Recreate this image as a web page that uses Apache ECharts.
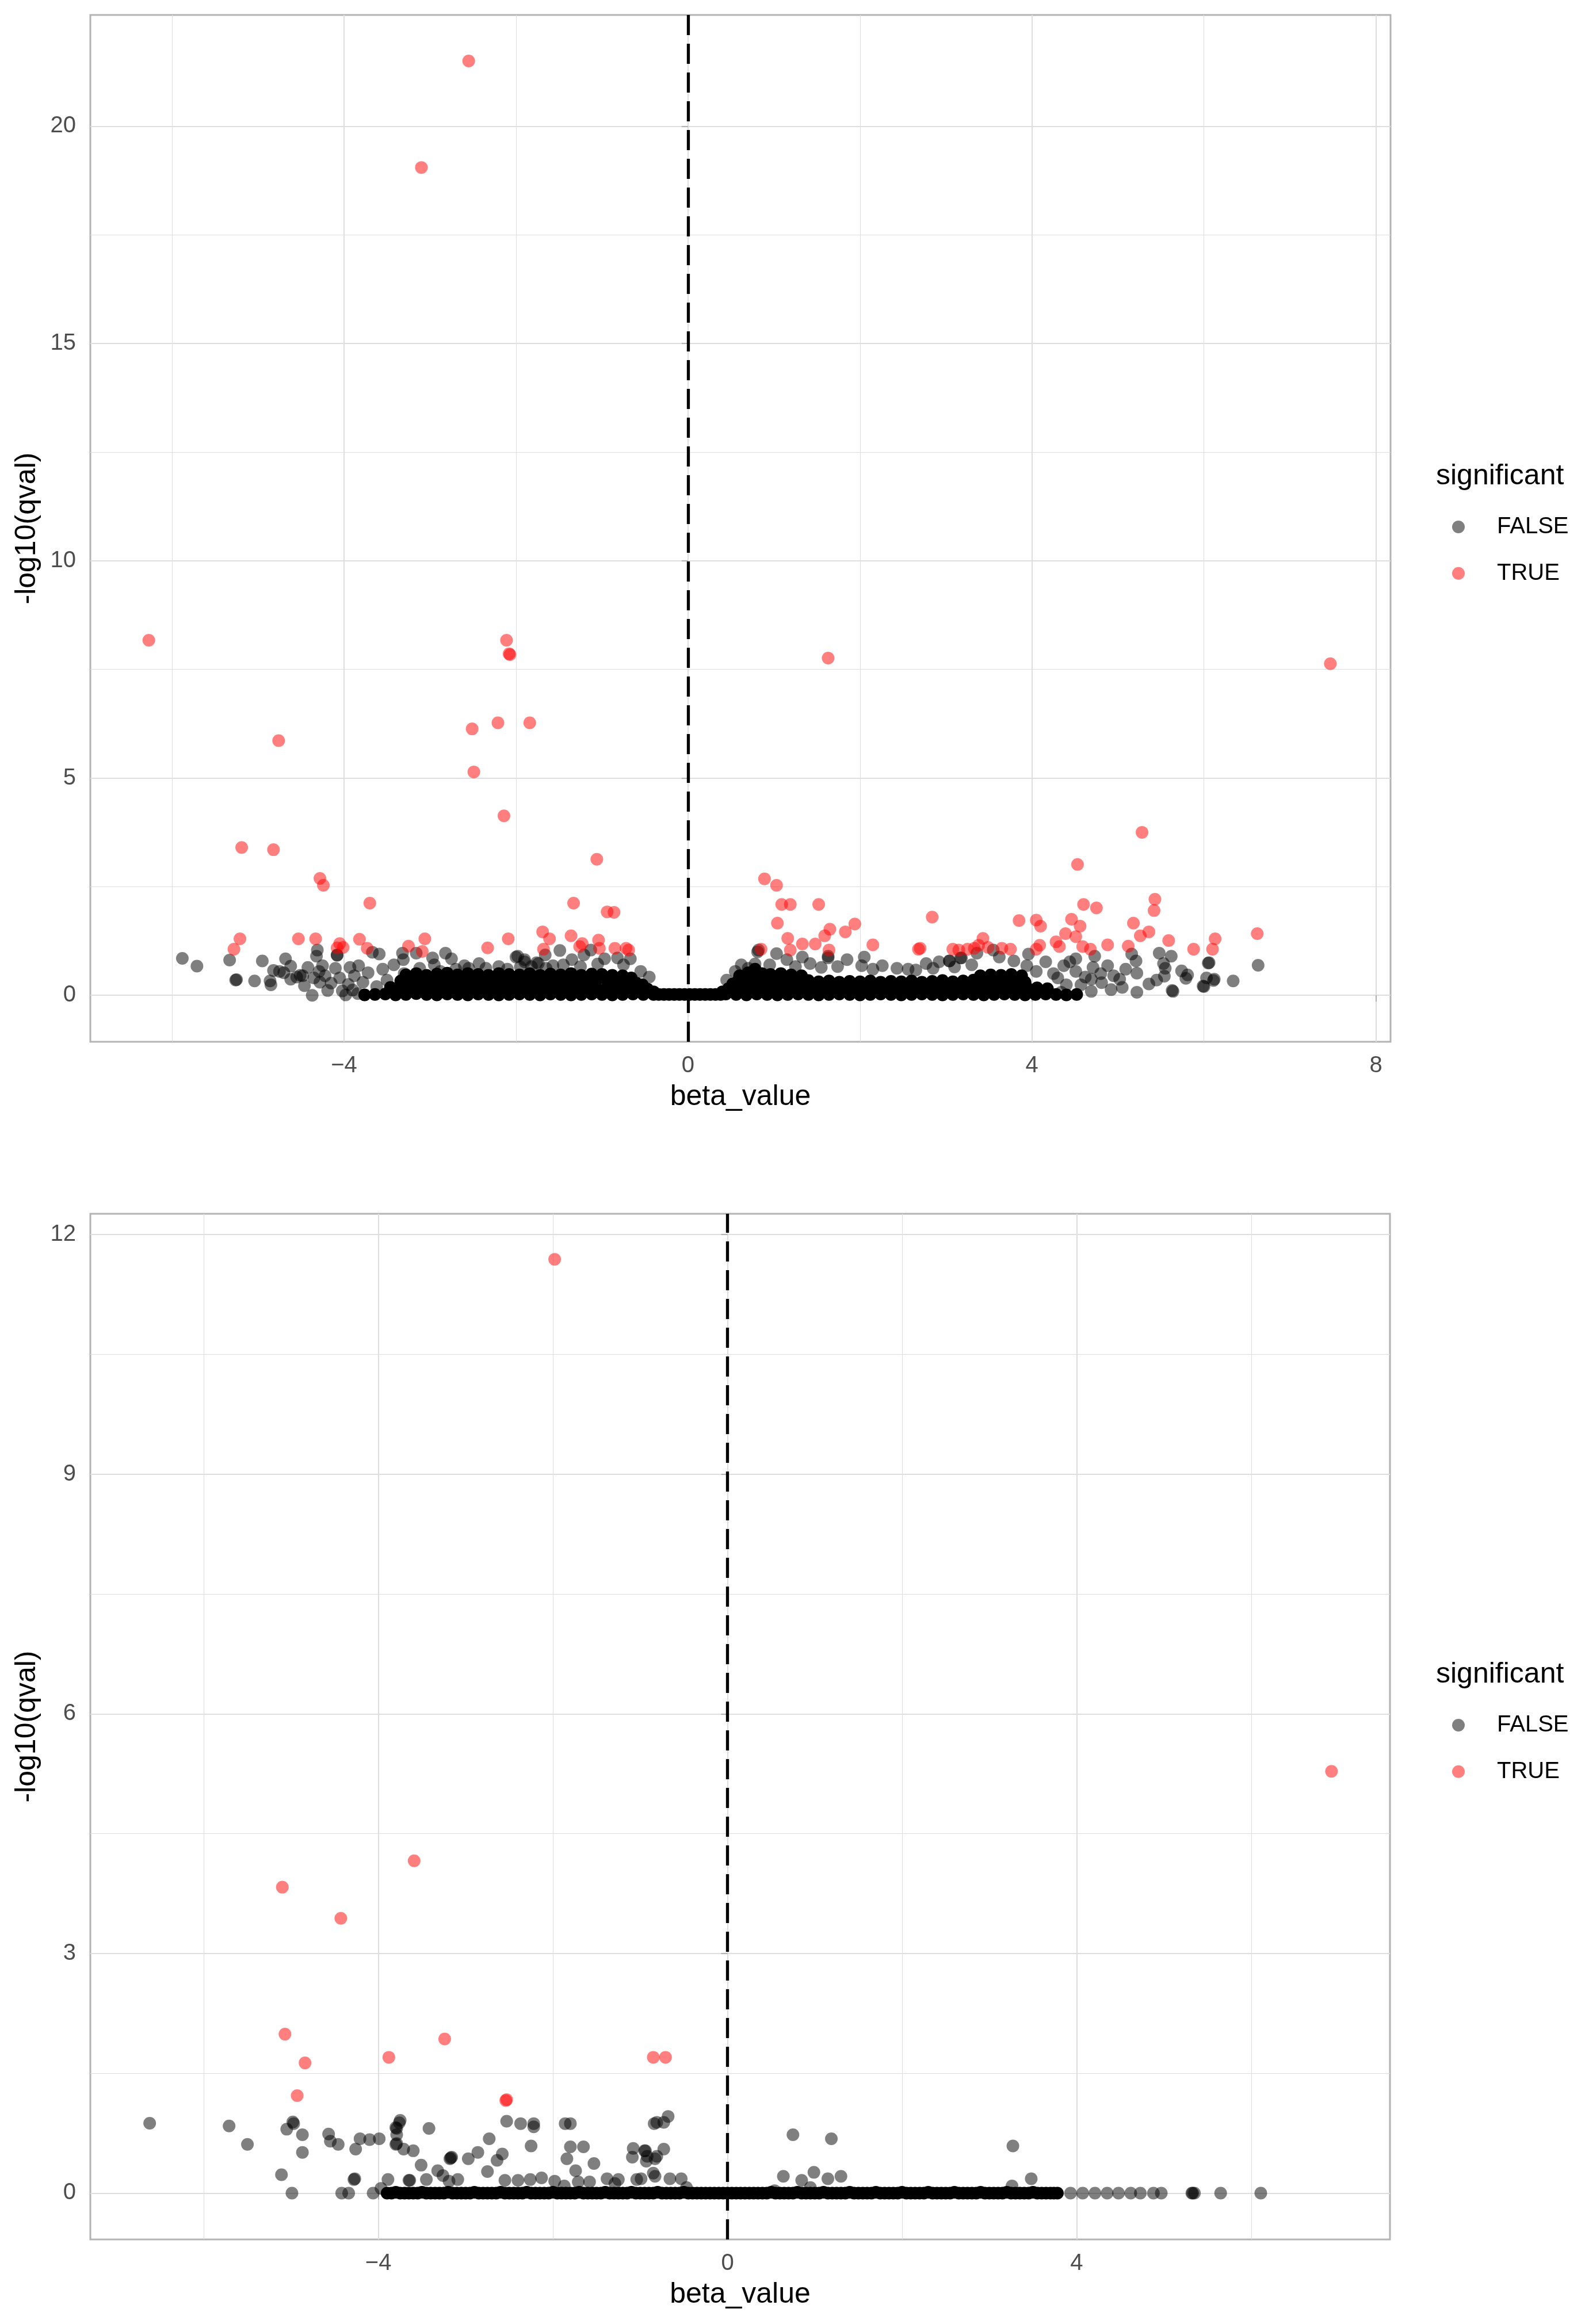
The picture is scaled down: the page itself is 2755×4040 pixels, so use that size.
<!DOCTYPE html>
<html><head><meta charset="utf-8">
<script src="https://cdn.jsdelivr.net/npm/echarts@6/dist/echarts.min.js"></script>
<style>html,body{margin:0;padding:0;background:#fff}#c{width:2755px;height:4040px}</style>
</head><body><div id="c"></div><script>
// ---------- tick values ----------
const topXTicks = [-4, 0, 4, 8];
const topXMinor = [-6, -2, 2, 6];
const topYTicks = [0, 5, 10, 15, 20];
const topYMinor = [2.5, 7.5, 12.5, 17.5];
const bottomXTicks = [-4, 0, 4];
const bottomXMinor = [-6, -2, 2, 6];
const bottomYTicks = [0, 3, 6, 9, 12];
const bottomYMinor = [1.5, 4.5, 7.5, 10.5];
const legendLabels = ['FALSE', 'TRUE'];

// ---------- top panel data [beta_value, -log10(qval)] ----------
const topTrue = [
 [-2.55,21.50],[-3.10,19.05],[-6.27,8.17],[-2.11,8.17],[-2.08,7.86],[-2.07,7.84],[-4.76,5.86],[-2.51,6.13],[-2.21,6.27],[-1.84,6.27],[-2.49,5.14],[-2.14,4.13],[1.63,7.76],[7.47,7.63],
 [-5.19,3.40],[-4.82,3.35],[-4.28,2.69],[-4.24,2.53],[-3.70,2.12],[-5.21,1.30],[-5.28,1.06],[-4.53,1.30],[-4.33,1.30],[-4.05,1.19],[-4.01,1.10],[-4.08,1.09],[-3.82,1.29],[-3.73,1.08],[-3.25,1.13],[-3.06,1.30],[-3.09,1.01],[-2.33,1.09],[-2.09,1.30],
 [-1.69,1.46],[-1.61,1.30],[-1.36,1.37],[-1.23,1.19],[-1.26,1.12],[-1.04,1.27],[-1.03,1.08],[-1.68,1.06],[-0.85,1.08],[-0.72,1.08],[-0.69,1.04],[-1.06,3.13],[-1.33,2.12],[-0.94,1.92],[-0.86,1.91],
 [0.89,2.68],[1.03,2.53],[1.09,2.09],[1.19,2.09],[1.52,2.09],[1.04,1.66],[1.16,1.31],[1.19,1.04],[1.33,1.18],[1.48,1.18],[1.59,1.37],[1.65,1.52],[1.83,1.46],[1.94,1.64],[1.64,1.04],[2.15,1.16],[2.84,1.80],[2.70,1.08],[2.68,1.06],[0.85,1.06],[3.08,1.06],[3.15,1.04],[3.25,1.06],[3.33,1.08],
 [5.28,3.75],[4.53,3.01],[5.43,2.21],[5.42,1.95],[4.60,2.09],[4.75,2.01],[3.85,1.72],[4.05,1.73],[4.10,1.59],[4.46,1.75],[4.56,1.59],[4.39,1.42],[4.51,1.35],[4.28,1.23],[4.32,1.12],[4.09,1.15],[4.05,1.06],[4.59,1.12],[4.68,1.06],[4.88,1.16],[5.12,1.13],[5.18,1.66],[5.36,1.46],[5.26,1.37],[5.59,1.26],[5.88,1.06],[6.13,1.30],[6.10,1.06],[6.62,1.42],[3.43,1.31],[3.65,1.08],[3.75,1.06],[3.38,1.15],[3.49,1.10]
];
const topFalse = [
 [-5.88,0.85],[-5.71,0.67],[-5.33,0.81],[-5.26,0.35],[-5.25,0.36],[-5.04,0.33],[-4.95,0.79],[-4.86,0.33],[-4.85,0.24],[-4.82,0.57],[-4.68,0.84],[-4.62,0.67],[-4.62,0.37],[-4.51,0.46],[-4.46,0.22],[-4.42,0.64],[-4.37,0.00],[-4.31,1.04],[-4.32,0.90],[-4.29,0.55],[-4.25,0.68],[-4.19,0.11],[-4.08,0.93],[-4.08,0.92],[-4.10,0.62],[-3.98,0.01],[-3.93,0.64],[-3.84,0.04],[-3.83,0.68],[-3.67,0.99],[-3.59,0.95],[-3.32,0.97],[-3.31,0.82],[-3.16,0.97],[-2.97,0.86],[-2.82,0.97],[-2.75,0.84],[-2.60,0.68],[-2.43,0.73],[-2.00,0.88],[-1.90,0.77],[-1.74,0.73],
 [-4.75,0.55],[-4.70,0.52],[-4.55,0.42],[-4.48,0.45],[-4.35,0.40],[-4.28,0.30],[-4.22,0.45],[-4.15,0.28],[-4.05,0.40],[-3.95,0.25],[-3.88,0.45],[-3.78,0.30],[-3.72,0.52],[-3.62,0.20],[-3.55,0.60],[-3.50,0.35],[-3.42,0.70],[-3.40,0.15],[-3.30,0.50],[-3.22,0.30],[-3.12,0.62],[-3.05,0.40],[-2.95,0.70],[-2.88,0.55],[-2.70,0.60],[-2.55,0.62],[-2.35,0.62],[-2.20,0.66],[-2.10,0.60],[-1.95,0.65],[-1.82,0.66],[-1.65,0.62],[-4.02,0.10],[-3.90,0.12],
 [-1.49,1.03],[-1.98,0.90],[-1.90,0.82],[-1.76,0.75],[-1.66,0.93],[-1.35,0.82],[-1.21,0.93],[-1.13,1.04],[-0.97,0.84],[-0.82,0.86],[-0.67,0.84],[-1.57,0.68],[-0.55,0.55],[-0.45,0.42],[-0.75,0.70],[-1.05,0.72],[-1.45,0.70],[-1.25,0.66],
 [0.82,1.04],[0.81,1.00],[1.03,0.96],[1.15,0.82],[1.33,0.88],[1.42,0.73],[1.63,0.90],[1.63,0.86],[1.74,0.66],[1.85,0.82],[2.05,0.88],[2.02,0.68],[2.26,0.68],[2.43,0.62],[2.56,0.60],[2.77,0.73],[2.92,0.77],[3.04,0.79],[3.18,0.86],
 [0.45,0.35],[0.55,0.55],[0.62,0.70],[0.70,0.62],[0.78,0.72],[0.95,0.70],[1.25,0.66],[1.55,0.64],[2.15,0.60],[2.65,0.58],[2.85,0.62],[3.10,0.65],[3.30,0.70],
 [3.96,0.95],[3.55,1.04],[4.51,0.84],[4.73,0.90],[5.16,0.95],[5.21,0.79],[5.48,0.97],[5.62,0.90],[5.53,0.73],[6.06,0.75],[6.63,0.69],[4.88,0.68],[5.09,0.60],[5.22,0.51],[5.02,0.37],[5.54,0.44],[5.74,0.56],[5.81,0.47],[5.36,0.26],[5.45,0.35],[6.03,0.40],[6.12,0.37],[6.34,0.33],[6.00,0.20],[5.99,0.21],[5.64,0.09],[5.22,0.07],[5.05,0.18],[4.92,0.13],[4.69,0.09],[4.69,0.37],[4.71,0.64],[4.81,0.29],[4.57,0.24],[4.40,0.24],[4.34,0.07],[4.51,0.55],[4.44,0.77],[4.37,0.68],[4.16,0.77],[3.94,0.68],[3.79,0.79],[3.62,0.88],[3.36,0.97],[3.17,0.86],[3.04,0.79],[5.63,0.11],[6.05,0.74],[6.11,0.34],[5.79,0.39],[5.55,0.62],[4.95,0.45],[4.80,0.50],[4.62,0.42],[4.25,0.50],[4.05,0.55],[4.30,0.40]
];
// heavily over-plotted FALSE band near zero (reads as solid black)
const topFalseDense = [
 [-3.76,0.01],[-3.64,0.02],[-3.52,0.03],[-3.40,0.01],[-3.28,0.02],[-3.16,0.04],[-3.04,0.02],[-2.92,0.01],[-2.80,0.03],[-2.68,0.02],[-2.56,0.01],[-2.44,0.03],[-2.32,0.02],[-2.20,0.01],[-2.08,0.02],[-1.96,0.03],[-1.84,0.02],[-1.72,0.01],[-1.60,0.03],[-1.48,0.02],[-1.36,0.01],[-1.24,0.02],[-1.12,0.03],[-1.00,0.02],[-0.88,0.01],[-0.76,0.02],[-0.64,0.03],[-0.52,0.02],[-0.40,0.02],[-0.28,0.02],[-0.16,0.02],[-0.04,0.02],[0.08,0.02],[0.20,0.02],[0.32,0.02],[0.44,0.03],[0.56,0.02],[0.68,0.01],[0.80,0.03],[0.92,0.02],[1.04,0.01],[1.16,0.02],[1.28,0.03],[1.40,0.02],[1.52,0.01],[1.64,0.02],[1.76,0.03],[1.88,0.02],[2.00,0.01],[2.12,0.02],[2.24,0.03],[2.36,0.02],[2.48,0.01],[2.60,0.02],[2.72,0.03],[2.84,0.02],[2.96,0.01],[3.08,0.02],[3.20,0.03],[3.32,0.02],[3.44,0.01],[3.56,0.02],[3.68,0.03],[3.80,0.02],[3.92,0.01],[4.04,0.02],[4.16,0.03],[4.28,0.02],[4.40,0.01],[4.52,0.02],
 [-0.34,0.02],[-0.22,0.02],[-0.10,0.02],[0.02,0.02],[0.14,0.02],[0.26,0.02],[0.38,0.02],
 [-3.46,0.18],[-3.34,0.20],[-3.22,0.16],[-3.10,0.19],[-2.98,0.21],[-2.86,0.17],[-2.74,0.19],[-2.62,0.20],[-2.50,0.16],[-2.38,0.18],[-2.26,0.21],[-2.14,0.17],[-2.02,0.19],[-1.90,0.20],[-1.78,0.16],[-1.66,0.18],[-1.54,0.21],[-1.42,0.17],[-1.30,0.19],[-1.18,0.20],[-1.06,0.16],[-0.94,0.18],[-0.82,0.20],[-0.70,0.17],[-0.58,0.17],[-0.47,0.14],[-0.40,0.08],
 [0.40,0.08],[0.47,0.15],[0.58,0.19],[0.70,0.20],[0.82,0.16],[0.94,0.18],[1.06,0.21],[1.18,0.17],[1.30,0.19],[1.42,0.20],[1.54,0.16],[1.66,0.18],[1.78,0.20],[1.90,0.17],[2.02,0.19],[2.14,0.16],[2.26,0.18],[2.38,0.20],[2.50,0.17],[2.62,0.19],[2.74,0.16],[2.86,0.18],[2.98,0.20],[3.10,0.17],[3.22,0.19],[3.34,0.21],[3.46,0.17],[3.58,0.19],[3.70,0.20],[3.82,0.16],[3.94,0.18],[4.06,0.17],[4.18,0.15],
 [-3.34,0.33],[-3.22,0.35],[-3.10,0.31],[-2.98,0.34],[-2.86,0.36],[-2.74,0.32],[-2.62,0.35],[-2.50,0.33],[-2.38,0.31],[-2.26,0.36],[-2.14,0.34],[-2.02,0.32],[-1.90,0.35],[-1.78,0.33],[-1.66,0.36],[-1.54,0.31],[-1.42,0.34],[-1.30,0.35],[-1.18,0.32],[-1.06,0.36],[-0.94,0.33],[-0.82,0.34],[-0.70,0.32],[-0.60,0.28],[-0.53,0.24],
 [0.52,0.26],[0.58,0.33],[0.68,0.35],[0.80,0.34],[0.92,0.36],[1.04,0.32],[1.16,0.35],[1.28,0.33],[1.40,0.34],[1.52,0.31],[1.64,0.33],[1.76,0.30],[1.88,0.32],[2.00,0.31],[2.12,0.33],[2.24,0.30],[2.36,0.32],[2.48,0.31],[2.60,0.33],[2.72,0.30],[2.84,0.32],[2.96,0.34],[3.08,0.31],[3.20,0.33],[3.32,0.35],[3.44,0.32],[3.56,0.34],[3.68,0.31],[3.80,0.33],[3.92,0.30],
 [-3.28,0.47],[-3.16,0.50],[-3.04,0.46],[-2.92,0.49],[-2.80,0.51],[-2.68,0.47],[-2.56,0.50],[-2.44,0.48],[-2.32,0.46],[-2.20,0.50],[-2.08,0.48],[-1.96,0.47],[-1.84,0.50],[-1.72,0.46],[-1.60,0.49],[-1.48,0.47],[-1.36,0.50],[-1.24,0.46],[-1.12,0.49],[-1.00,0.48],[-0.88,0.46],[-0.76,0.45],[-0.66,0.40],
 [0.60,0.45],[0.70,0.52],[0.78,0.60],[0.86,0.50],[0.96,0.48],[1.08,0.50],[1.20,0.47],[1.32,0.45],[3.40,0.45],[3.52,0.47],[3.64,0.46],[3.76,0.48],[3.88,0.45]
];

// ---------- bottom panel data ----------
const bottomTrue = [
 [-1.98,11.69],[-3.59,4.16],[-5.10,3.83],[-4.43,3.44],[-5.07,1.99],[-4.84,1.63],[-4.93,1.22],[-3.88,1.70],[-3.24,1.93],[-2.54,1.16],[-2.53,1.17],[-0.85,1.70],[-0.71,1.70],[6.92,5.28]
];
const bottomFalse = [
 [-6.62,0.875],[-5.71,0.84],[-5.50,0.61],[-5.11,0.23],[-4.99,0.00],[-4.98,0.89],[-4.97,0.87],[-5.05,0.80],[-4.87,0.73],[-4.87,0.51],[-4.57,0.74],[-4.55,0.65],[-4.46,0.61],[-4.26,0.55],[-4.28,0.17],[-4.27,0.18],[-4.42,0.00],[-4.34,0.00],[-4.21,0.68],[-4.10,0.67],[-3.99,0.68],[-4.06,0.00],[-3.97,0.06],[-3.89,0.17],
 [-3.75,0.91],[-3.76,0.88],[-3.79,0.81],[-3.80,0.82],[-3.79,0.73],[-3.80,0.61],[-3.79,0.62],[-3.71,0.55],[-3.60,0.53],[-3.51,0.35],[-3.42,0.81],[-3.65,0.16],[-3.64,0.16],[-3.45,0.17],[-3.32,0.28],[-3.17,0.44],[-3.16,0.45],[-3.18,0.43],[-2.97,0.43],[-2.86,0.51],[-2.73,0.68],[-2.64,0.41],[-2.58,0.49],[-2.75,0.27],[-2.55,0.16],[-2.53,0.90],[-2.37,0.87],[-2.22,0.87],[-2.22,0.83],[-2.25,0.59],
 [-1.86,0.87],[-1.80,0.87],[-1.80,0.58],[-1.65,0.58],[-1.84,0.43],[-1.74,0.28],[-1.53,0.37],[-1.38,0.18],[-1.25,0.17],[-1.08,0.56],[-0.95,0.53],[-1.09,0.45],[-0.93,0.40],[-0.83,0.43],[-0.84,0.87],[-1.04,0.17],[-0.85,0.25],[-3.26,0.22],[-3.19,0.15],[-3.09,0.17],[-2.40,0.16],[-2.26,0.17],[-2.13,0.19],[-1.98,0.15],[-1.87,0.09],[-1.71,0.14],[-1.58,0.14],[-1.29,0.12],
 [-0.81,0.885],[-0.73,0.885],[-0.68,0.96],[-0.73,0.55],[-0.81,0.46],[-0.92,0.46],[-0.94,0.53],[-0.83,0.21],[-0.66,0.18],[-0.53,0.18],[-0.47,0.07],[-0.99,0.18],
 [0.75,0.73],[1.19,0.68],[3.27,0.59],[0.64,0.21],[0.85,0.16],[0.99,0.26],[1.15,0.18],[1.30,0.21],[0.95,0.07],[0.54,0.03],[3.48,0.18],[3.26,0.09],
 [3.93,0.00],[4.07,0.00],[4.21,0.00],[4.35,0.00],[4.48,0.00],[4.62,0.00],[4.73,0.00],[4.88,0.00],[4.97,0.00],[5.32,0.00],[5.35,0.00],[5.33,0.00],[5.65,0.00],[6.11,0.00]
];
const bottomFalseDense = [
 [-3.90,0.00],[-3.85,0.00],[-3.80,0.01],[-3.75,0.00],[-3.70,0.00],[-3.65,0.00],[-3.60,0.00],[-3.55,0.00],[-3.50,0.01],[-3.45,0.00],[-3.40,0.00],[-3.35,0.00],[-3.30,0.00],[-3.25,0.00],[-3.20,0.01],[-3.15,0.00],[-3.10,0.00],[-3.05,0.00],[-3.00,0.00],[-2.95,0.00],[-2.90,0.01],[-2.85,0.00],[-2.80,0.00],[-2.75,0.00],[-2.70,0.00],[-2.65,0.00],[-2.60,0.01],[-2.55,0.00],[-2.50,0.00],[-2.45,0.00],[-2.40,0.00],[-2.35,0.00],[-2.30,0.01],[-2.25,0.00],[-2.20,0.00],[-2.15,0.00],[-2.10,0.00],[-2.05,0.00],[-2.00,0.01],[-1.95,0.00],
 [-1.90,0.00],[-1.85,0.00],[-1.80,0.00],[-1.75,0.00],[-1.70,0.01],[-1.65,0.00],[-1.60,0.00],[-1.55,0.00],[-1.50,0.00],[-1.45,0.00],[-1.40,0.01],[-1.35,0.00],[-1.30,0.00],[-1.25,0.00],[-1.20,0.00],[-1.15,0.00],[-1.10,0.01],[-1.05,0.00],[-1.00,0.00],[-0.95,0.00],[-0.90,0.00],[-0.85,0.00],[-0.80,0.01],[-0.75,0.00],[-0.70,0.00],[-0.65,0.00],[-0.60,0.00],[-0.55,0.00],[-0.50,0.01],[-0.45,0.00],[-0.40,0.00],[-0.35,0.00],[-0.30,0.00],[-0.25,0.00],[-0.20,0.00],[-0.15,0.00],[-0.10,0.00],[-0.05,0.00],[0.00,0.00],
 [0.05,0.00],[0.10,0.00],[0.15,0.00],[0.20,0.00],[0.25,0.00],[0.30,0.00],[0.35,0.00],[0.40,0.00],[0.45,0.00],[0.50,0.01],[0.55,0.00],[0.60,0.00],[0.65,0.00],[0.70,0.00],[0.75,0.00],[0.80,0.01],[0.85,0.00],[0.90,0.00],[0.95,0.00],[1.00,0.00],[1.05,0.00],[1.10,0.01],[1.15,0.00],[1.20,0.00],[1.25,0.00],[1.30,0.00],[1.35,0.00],[1.40,0.01],[1.45,0.00],[1.50,0.00],[1.55,0.00],[1.60,0.00],[1.65,0.00],[1.70,0.01],[1.75,0.00],[1.80,0.00],[1.85,0.00],[1.90,0.00],[1.95,0.00],
 [2.00,0.01],[2.05,0.00],[2.10,0.00],[2.15,0.00],[2.20,0.00],[2.25,0.00],[2.30,0.01],[2.35,0.00],[2.40,0.00],[2.45,0.00],[2.50,0.00],[2.55,0.00],[2.60,0.01],[2.65,0.00],[2.70,0.00],[2.75,0.00],[2.80,0.00],[2.85,0.00],[2.90,0.01],[2.95,0.00],[3.00,0.00],[3.05,0.00],[3.10,0.00],[3.15,0.00],[3.20,0.01],[3.25,0.00],[3.30,0.00],[3.35,0.00],[3.40,0.00],[3.45,0.00],[3.50,0.01],[3.55,0.00],[3.60,0.00],[3.65,0.00],[3.70,0.00],[3.74,0.00],[3.78,0.00]
];

// ---------- chart ----------
const FONT = '"Liberation Sans", Arial, Helvetica, sans-serif';
const GRID_C = '#DEDEDE';
const fmt = v => (v < 0 ? '\u2212' + Math.abs(v) : String(v));

function majorX(g, min, max, ticks) {
  return {
    type: 'value', gridIndex: g, min: min, max: max, position: 'bottom',
    axisLine: { show: false },
    axisTick: { show: true, length: 11, customValues: ticks, lineStyle: { color: '#B3B3B3', width: 2.2 } },
    axisLabel: { show: true, customValues: ticks, formatter: fmt, margin: 22, fontSize: 40, color: '#4D4D4D', fontFamily: FONT },
    splitLine: { show: true, lineStyle: { color: GRID_C, width: 2.2 } },
    name: 'beta_value', nameLocation: 'middle', nameGap: 71,
    nameTextStyle: { fontSize: 50, color: '#000', fontFamily: FONT }
  };
}
function minorAxis(g, min, max, vals) {
  return {
    type: 'value', gridIndex: g, min: min, max: max,
    axisLine: { show: false },
    axisTick: { show: false, customValues: vals },
    axisLabel: { show: false, customValues: vals },
    splitLine: { show: true, lineStyle: { color: GRID_C, width: 1.1 } }
  };
}
function majorY(g, min, max, ticks) {
  return {
    type: 'value', gridIndex: g, min: min, max: max, position: 'left',
    axisLine: { show: false },
    axisTick: { show: true, length: 11, customValues: ticks, lineStyle: { color: '#B3B3B3', width: 2.2 } },
    axisLabel: { show: true, customValues: ticks, formatter: fmt, margin: 25, fontSize: 40, color: '#4D4D4D', fontFamily: FONT },
    splitLine: { show: true, lineStyle: { color: GRID_C, width: 2.2 } },
    name: '-log10(qval)', nameLocation: 'middle', nameGap: 85,
    nameTextStyle: { fontSize: 50, color: '#000', fontFamily: FONT }
  };
}
const vline = {
  silent: true, symbol: ['none', 'none'], label: { show: false },
  lineStyle: { color: '#000', width: 5.3, type: [35, 15] },
  data: [{ xAxis: 0 }]
};
function pts(name, xi, yi, data, color, extra) {
  return Object.assign({
    type: 'scatter', name: name, xAxisIndex: xi, yAxisIndex: yi, data: data,
    symbol: 'circle', symbolSize: 22, silent: true,
    itemStyle: { color: color, opacity: 1 }
  }, extra || {});
}
function legendAt(top) {
  return {
    orient: 'vertical', left: 2524, top: top, padding: 0,
    itemWidth: 22, itemHeight: 22, itemGap: 38.7, icon: 'circle', selectedMode: false,
    textStyle: { fontSize: 40, color: '#000', fontFamily: FONT, lineHeight: 42, padding: [0, 0, 0, 51] },
    data: legendLabels
  };
}
function legendTitle(y) {
  return { type: 'text', x: 2496, y: y, style: { text: 'significant', font: '50px ' + FONT, fill: '#000', textAlign: 'left', textVerticalAlign: 'middle', align: 'left', verticalAlign: 'middle' } };
}

const chart = echarts.init(document.getElementById('c'), null, { renderer: 'canvas' });
chart.setOption({
  animation: false,
  backgroundColor: '#fff',
  grid: [
    { left: 157, top: 26, width: 2260, height: 1785, show: true, borderColor: '#B3B3B3', borderWidth: 3, backgroundColor: 'transparent' },
    { left: 157, top: 2110, width: 2259, height: 1783, show: true, borderColor: '#B3B3B3', borderWidth: 3, backgroundColor: 'transparent' }
  ],
  xAxis: [
    majorX(0, -6.95, 8.17, topXTicks),
    minorAxis(0, -6.95, 8.17, topXMinor),
    majorX(1, -7.30, 7.59, bottomXTicks),
    minorAxis(1, -7.30, 7.59, bottomXMinor)
  ],
  yAxis: [
    majorY(0, -1.07, 22.56, topYTicks),
    minorAxis(0, -1.07, 22.56, topYMinor),
    majorY(1, -0.58, 12.26, bottomYTicks),
    minorAxis(1, -0.58, 12.26, bottomYMinor)
  ],
  legend: [legendAt(895), legendAt(2978)],
  graphic: [legendTitle(828), legendTitle(2911)],
  series: [
    pts('FALSE', 0, 0, topFalse, 'rgba(0,0,0,0.5)'),
    pts('FALSE', 0, 0, topFalseDense, '#000'),
    pts('TRUE', 0, 0, topTrue, 'rgba(255,0,0,0.5)', { markLine: vline }),
    pts('FALSE', 2, 2, bottomFalse, 'rgba(0,0,0,0.5)'),
    pts('FALSE', 2, 2, bottomFalseDense, '#000'),
    pts('TRUE', 2, 2, bottomTrue, 'rgba(255,0,0,0.5)', { markLine: vline })
  ]
});
</script></body></html>
